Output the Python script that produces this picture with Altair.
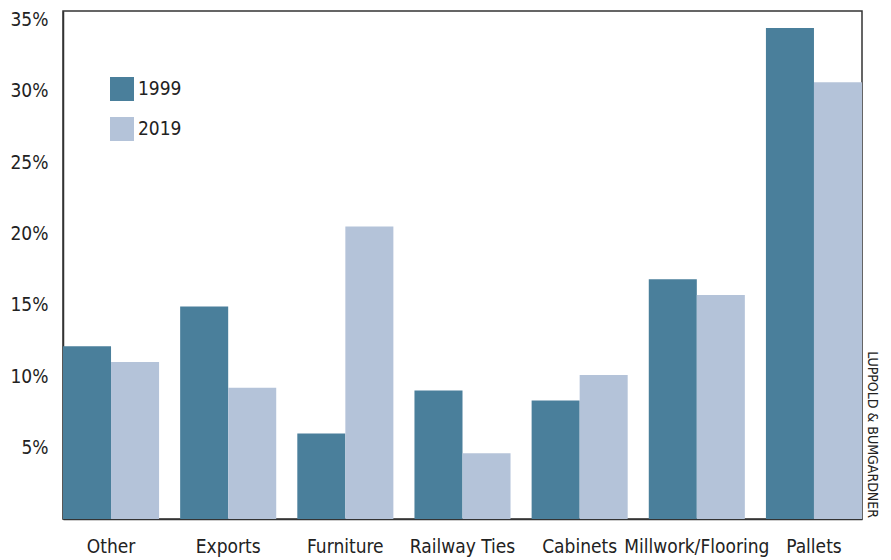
import altair as alt
import pandas as pd

categories = ["Other", "Exports", "Furniture", "Railway Ties", "Cabinets", "Millwork/Flooring", "Pallets"]
years = ["1999", "2019"]
v1999 = [12.1, 14.9, 6.0, 9.0, 8.3, 16.8, 34.4]
v2019 = [11.0, 9.2, 20.5, 4.6, 10.1, 15.7, 30.6]
y_ticks = [5, 10, 15, 20, 25, 30, 35]
colors = ["#4a7f9b", "#b4c3d9"]
source = "LUPPOLD & BUMGARDNER"

rows = []
for c, a, b in zip(categories, v1999, v2019):
    rows.append({"category": c, "year": years[0], "value": a})
    rows.append({"category": c, "year": years[1], "value": b})
df = pd.DataFrame(rows)

FONT = "DejaVu Sans Condensed, Liberation Sans, sans-serif"
FS = 19

bars = alt.Chart(df).mark_bar().encode(
    x=alt.X("category:N", sort=categories, title=None,
            scale=alt.Scale(paddingInner=0.18, paddingOuter=0),
            axis=alt.Axis(labelAngle=0, ticks=False, labelPadding=18,
                          labelFontSize=FS, labelFont=FONT, labelColor="#222",
                          domainColor="#333", domainWidth=1.5)),
    xOffset=alt.XOffset("year:N", sort=years, scale=alt.Scale(paddingInner=0, paddingOuter=0)),
    y=alt.Y("value:Q", title=None,
            scale=alt.Scale(domain=[0, 35.6], nice=False),
            axis=alt.Axis(values=y_ticks, labelExpr="datum.value + '%'", ticks=False,
                          grid=False, labelPadding=15, labelFontSize=FS, labelFont=FONT,
                          labelColor="#222", domainColor="#333", domainWidth=1.5)),
    color=alt.Color("year:N", sort=years,
                    scale=alt.Scale(domain=years, range=colors),
                    legend=alt.Legend(title=None, orient="none", legendX=47, legendY=66,
                                      symbolType="square", symbolSize=576,
                                      symbolStrokeWidth=0, rowPadding=16, padding=0,
                                      labelFontSize=FS, labelFont=FONT, labelColor="#222",
                                      labelOffset=4)),
)

note = alt.Chart(pd.DataFrame({"t": [source]})).mark_text(
    angle=90, align="right", baseline="middle", fontSize=14, font=FONT, color="#222"
).encode(text="t:N", x=alt.value(809), y=alt.value(507))

chart = alt.layer(bars, note).properties(
    width=799, height=508,
    padding={"left": 55, "top": 3, "right": 21, "bottom": 41},
    autosize=alt.AutoSizeParams(type="none"),
).configure_view(stroke="#333", strokeWidth=1.5)

chart.save("out.html", embed_options={"renderer": "svg", "actions": False})
